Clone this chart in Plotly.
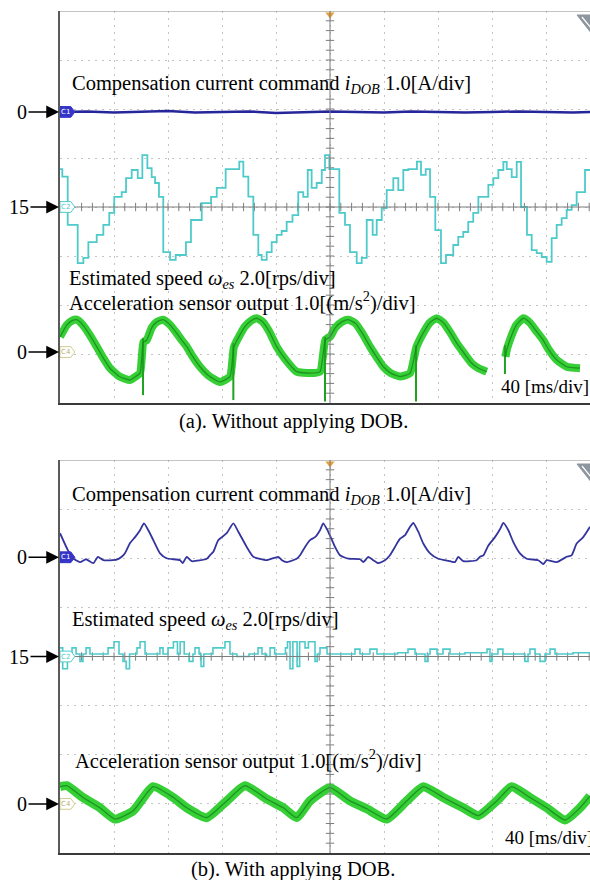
import plotly.graph_objects as go

# ------------------------------------------------------------------ data
# time in ms (40 ms/div); current in A, speed in rps, acceleration in m/s^2
# ---- (a) without DOB
a_cur_t = [0, 20, 40, 60, 80, 100, 120, 140, 160, 180, 200, 220, 240, 260, 280, 300, 320, 340, 360, 380, 392.6]
a_cur_v = [0.0, 0.01, -0.01, 0.0, 0.02, -0.01, 0.0, 0.01, -0.02, 0.0, 0.01, 0.0, -0.01, 0.01, 0.0, -0.01, 0.0, 0.01, 0.0, -0.01, 0.0]

a_spd_t = [0, 1.7, 5.7, 13.1, 17.3, 21, 27.2, 32.1, 36.5, 40.2, 45.7, 48.9, 53.1, 57.6, 61, 64.7, 67.9, 70.4,
           73.3, 76.5, 81.5, 85.7, 93.3, 97, 105, 111.9, 116.1, 122.7, 132.8, 135.8, 139.5, 143.2, 146.9, 149.4,
           153.1, 156.8, 160.5, 164.2, 167.9, 172.2, 176.5, 180.2, 183.5, 186.4, 190.1, 193.9, 196.3, 199.5,
           206.9, 211.1, 214.8, 219.8, 223.5, 227.2, 231.6, 234.6, 238.3, 242, 246.9, 250.6, 254.3, 258, 264.4,
           267.4, 270.9, 274.1, 278, 282.2, 285.9, 291.3, 295, 298.7, 302.4, 306.1, 309.9, 317.3, 321, 324.7,
           328.4, 330.9, 334.6, 338.3, 341.5, 345.9, 349.4, 353.1, 356.8, 360.5, 364.2, 367.9, 371.6, 375.3,
           379, 382.7, 388.9, 392.6]
a_spd_v = [16.55, 16.24, 14.27, 12.71, 12.92, 13.57, 13.86, 14.27, 14.76, 15.41, 15.61, 16.18, 16.51, 16.18,
           17.12, 16.59, 16.22, 15.98, 15.41, 13.16, 12.84, 13.04, 13.57, 14.47, 15.16, 15.41, 15.78, 16.55,
           16.85, 16.24, 15.42, 13.86, 13.04, 12.84, 13.16, 13.57, 13.86, 14.02, 14.39, 14.67, 15.61, 15.41,
           16.51, 15.78, 15.98, 16.51, 17.12, 16.55, 14.76, 14.27, 13.16, 12.71, 12.92, 14.47, 13.86, 14.47,
           14.96, 15.69, 16.18, 15.69, 16.51, 16.55, 16.85, 16.31, 16.55, 15.41, 14.06, 12.71, 13.04, 13.45,
           13.78, 13.98, 14.39, 14.76, 15.41, 15.9, 16.18, 16.51, 16.84, 16.55, 16.22, 16.84, 15.0, 13.86,
           13.24, 13.12, 12.96, 12.76, 13.73, 14.27, 14.55, 14.88, 15.08, 15.61, 16.51, 16.51]

a_acc_t = [0, 5, 9, 12.4, 17, 22, 27.2, 32, 37, 44, 51.9, 56, 59.3, 61.8, 64.2, 68, 72, 76.3, 81, 86, 90, 93.9,
           98, 103.7, 110, 118.5, 125.9, 128.8, 133.3, 137, 141, 145.7, 150, 155, 160.5, 167, 175.3, 185.2,
           192.6, 196.6, 200, 204, 209, 213.6, 219, 224, 229.6, 235, 239.5, 245, 251.9, 259.3, 264, 269.1,
           274, 279, 284, 289, 293.9, 300, 305, 310, 316.1, 317, 330, 331, 334, 338, 343.2, 348, 353, 358,
           362, 367.9, 375.3, 385.2]
a_acc_v = [0.31, 0.55, 0.64, 0.66, 0.55, 0.35, 0.11, -0.12, -0.33, -0.5, -0.57, -0.5, -0.43, 0.2, 0.24, 0.5,
           0.62, 0.66, 0.57, 0.4, 0.25, 0.11, -0.08, -0.3, -0.48, -0.61, -0.5, 0.1, 0.35, 0.52, 0.63, 0.69,
           0.62, 0.42, 0.11, -0.15, -0.4, -0.43, -0.4, 0.25, 0.31, 0.5, 0.62, 0.66, 0.58, 0.38, 0.11, -0.12,
           -0.3, -0.43, -0.5, -0.43, 0.1, 0.39, 0.6, 0.69, 0.6, 0.4, 0.18, -0.05, -0.23, -0.33, -0.4, None,
           -0.1, 0.05, 0.3, 0.55, 0.69, 0.6, 0.42, 0.24, 0.05, -0.16, -0.3, -0.33]
# impulsive spikes of the acceleration signal (time, lowest, highest)
a_spk_t = [61.5, 128.4, 196.3, 263.7, 329.6]
a_spk_lo = [-0.88, -0.98, -1.01, -1.01, -0.45]
a_spk_hi = [0.29, 0.18, 0.31, 0.14, 0.14]

# ---- (b) with DOB
b_cur_t = [0, 5.9, 9.6, 14.8, 19.3, 24.7, 28.1, 32.1, 42, 45.7, 48.1, 51.9, 55.6, 59.3, 62.2, 65.4, 69.1, 74.1,
           79, 88.9, 90.9, 93.9, 97.6, 108.7, 111.1, 113.6, 117.3, 123.5, 128.4, 132.1, 138.3, 143.2, 153.1,
           161.7, 164.4, 167.9, 175.3, 177.8, 181.5, 185.2, 188.9, 192.6, 195, 198.7, 203.7, 207.4, 213.6,
           222.2, 224.7, 228.4, 232.1, 235.8, 240.7, 244.4, 248.1, 251.9, 255.6, 259.3, 261.7, 265.4, 269.1,
           274.1, 280.2, 288.9, 292.6, 295, 298.7, 308.6, 311.1, 313.6, 317.3, 322.2, 325.9, 328.4, 332.1,
           335.8, 340.7, 345.7, 354.3, 358, 360.5, 367.9, 375.3, 379, 382.7, 387.6, 392.6]
b_cur_v = [0.49, 0.14, -0.02, -0.1, -0.04, -0.12, 0.01, -0.06, -0.05, 0.01, 0.08, 0.29, 0.41, 0.55, 0.69, 0.55,
           0.35, 0.08, -0.02, -0.06, -0.12, 0.01, -0.08, -0.03, 0.04, 0.11, 0.35, 0.49, 0.69, 0.52, 0.21, 0.01,
           -0.06, 0.01, -0.06, -0.1, -0.03, 0.04, 0.21, 0.35, 0.41, 0.55, 0.69, 0.52, 0.21, 0.04, -0.03, -0.04,
           -0.1, 0.01, -0.06, -0.12, -0.06, 0.04, 0.21, 0.38, 0.45, 0.62, 0.7, 0.52, 0.28, 0.08, -0.03, -0.08,
           -0.1, 0.01, -0.08, -0.06, 0.01, 0.04, 0.24, 0.41, 0.57, 0.7, 0.55, 0.31, 0.08, -0.03, -0.06, -0.14,
           -0.06, -0.1, 0.01, 0.04, 0.28, 0.41, 0.62]

b_spd_t = [0, 2, 5.5, 8.9, 11.9, 14.8, 17, 19.3, 22.2, 35.6, 40, 43.7, 46.7, 49, 51.5, 57, 59.3, 63, 74, 76.3,
           80, 84, 87, 89, 92, 95.6, 98.5, 100, 103, 104.5, 106.5, 113.3, 122.2, 125.9, 131, 140, 146.7, 149.6,
           153, 155.6, 159, 167, 168.5, 170.4, 172.5, 175.6, 177.5, 181.5, 184, 188.9, 190.5, 192.6, 197.8,
           218.5, 222.2, 229.6, 234.8, 250, 257.8, 263, 270.4, 272.6, 274.1, 279.3, 283.7, 288.9, 300, 316.3,
           318.5, 320, 324.4, 328.1, 344.4, 346.7, 348.1, 351.9, 355.6, 359.3, 363, 366.7, 380, 392.6]
b_spd_v = [15.35, 14.5, 15.1, 15.35, 15.1, 14.8, 15.1, 15.35, 15.1, 15.35, 15.6, 15.1, 14.8, 14.5, 15.1, 15.35,
           15.6, 15.1, 15.35, 15.1, 15.35, 15.6, 15.1, 15.6, 15.1, 14.8, 15.1, 15.35, 15.1, 14.6, 15.1, 15.35,
           15.6, 15.1, 15.0, 15.1, 15.35, 15.1, 15.0, 15.35, 15.1, 15.35, 15.6, 14.5, 15.6, 14.6, 15.6, 15.35,
           15.6, 14.8, 15.1, 15.35, 15.1, 15.3, 15.1, 15.3, 15.1, 15.15, 15.3, 15.1, 14.8, 15.1, 15.3, 15.1,
           15.3, 15.1, 15.15, 15.3, 14.8, 15.1, 15.3, 15.1, 14.8, 15.1, 15.3, 15.1, 14.8, 15.1, 15.3, 15.1,
           15.15, 15.15]

b_acc_t = [0, 5, 17, 29.6, 40.7, 54.3, 69.1, 83.9, 93.9, 108.7, 123.5, 137, 153.1, 165.4, 175.3, 185.2, 200,
           214.8, 227.2, 242, 256.8, 269.1, 283.9, 298.7, 309.9, 323.5, 334.6, 348.1, 360.5, 374.1, 385.2, 392.6]
b_acc_v = [0.35, 0.37, 0.13, -0.08, -0.31, -0.14, 0.35, 0.13, -0.08, -0.28, 0.06, 0.37, 0.1, -0.08, -0.28,
           0.06, 0.33, 0.06, -0.1, -0.31, 0.06, 0.35, 0.13, -0.08, -0.24, 0.06, 0.35, 0.13, -0.08, -0.33,
           -0.08, 0.16]

# channel settings: (reference value, units per div, screen offset in div)
A_CH = {"cur": (0, 1.0, 1.94), "spd": (15, 2.0, 0.0), "acc": (0, 1.0, -2.96)}
B_CH = {"cur": (0, 1.0, 2.02), "spd": (15, 2.0, 0.0), "acc": (0, 1.0, -3.0)}

# ------------------------------------------------------------------ layout helpers
W, H = 590, 880
SERIF = "Liberation Serif, Times New Roman, serif"
T_MAX = 530 / 1.35          # visible time span (ms)


def px(x):
    return x / W


def py(y):
    return 1 - y / H


X_DOM = [px(60), 1.0]
DOMS = {"a": [py(403), py(11)], "b": [py(853), py(460)]}

CYAN = "#4fcaca"
GREEN = "#36cf36"
DKGREEN = "#17861c"
GRIDC = "#c4c4c4"
CROSS = "#7d7d7d"

fig = go.Figure()
layout = dict(width=W, height=H, margin=dict(l=0, r=0, t=0, b=0), paper_bgcolor="white",
              plot_bgcolor="white", showlegend=False)

panels = {"a": ("x", "y", ["y3", "y4", "y5"], A_CH, 11), "b": ("x2", "y2", ["y6", "y7", "y8"], B_CH, 460)}

shapes, annos = [], []

for key, (xa, ya, chax, CH, top) in panels.items():
    xname = "xaxis" + xa[1:]
    yname = "yaxis" + ya[1:]
    layout[xname] = dict(domain=X_DOM, range=[0, T_MAX], anchor=ya, tick0=0, dtick=40, showgrid=True,
                         gridcolor=GRIDC, griddash="2px,5px", gridwidth=1, zeroline=False,
                         showticklabels=False, ticks="", showline=True, linecolor="#3a3a3a", linewidth=2)
    layout[yname] = dict(domain=DOMS[key], range=[-4, 4], anchor=xa, tick0=0, dtick=1, showgrid=True,
                         gridcolor=GRIDC, griddash="2px,5px", gridwidth=1, zeroline=False,
                         showticklabels=False, ticks="", showline=True, linecolor="#5a5a5a", linewidth=1.5)
    for ax_id, ch in zip(chax, ["cur", "spd", "acc"]):
        ref, per, off = CH[ch]
        layout["yaxis" + ax_id[1:]] = dict(overlaying=ya, anchor=xa, visible=False,
                                           range=[ref + per * (-4 - off), ref + per * (4 - off)])
    # top border
    shapes.append(dict(type="line", xref=xa, yref=ya, x0=0, x1=T_MAX, y0=4, y1=4,
                       line=dict(color="#8a8a8a", width=1)))
    # crosshair
    shapes.append(dict(type="line", xref=xa, yref=ya, x0=200, x1=200, y0=-4, y1=4,
                       line=dict(color=CROSS, width=1)))
    shapes.append(dict(type="line", xref=xa, yref=ya, x0=0, x1=T_MAX, y0=0, y1=0,
                       line=dict(color=CROSS, width=1)))
    # gray trigger-level flag at top right
    fx0, fx1, fy0, fy1 = px(577), px(592), py(top + 4), py(top + 23)
    shapes.append(dict(type="path", xref="paper", yref="paper",
                       path=f"M {fx0} {fy0} L {fx1} {fy0} L {fx1} {fy1} Z",
                       fillcolor="#8d959f", line=dict(color="#8d959f", width=1)))
    shapes.append(dict(type="line", xref="paper", yref="paper", x0=px(582), y0=py(top + 6),
                       x1=px(591), y1=py(top + 17), line=dict(color="white", width=1.2)))
    # crosshair minor ticks
    tx = [i * 8 for i in range(1, 50)]
    fig.add_trace(go.Scatter(x=tx, y=[0] * len(tx), xaxis=xa, yaxis=ya, mode="markers", hoverinfo="skip",
                             marker=dict(symbol="line-ns", size=6, line=dict(color=CROSS, width=1))))
    ty = [i * 0.2 - 4 for i in range(1, 40)]
    fig.add_trace(go.Scatter(x=[200] * len(ty), y=ty, xaxis=xa, yaxis=ya, mode="markers", hoverinfo="skip",
                             marker=dict(symbol="line-ew", size=6, line=dict(color=CROSS, width=1))))
    # trigger marker (orange) at top centre
    fig.add_trace(go.Scatter(x=[200], y=[3.93], xaxis=xa, yaxis=ya, mode="markers", hoverinfo="skip",
                             cliponaxis=False,
                             marker=dict(symbol="triangle-down", size=8, color="#e5a03c")))

# ------------------------------------------------------------------ traces
# panel (a)
fig.add_trace(go.Scatter(x=a_cur_t, y=a_cur_v, xaxis="x", yaxis="y3", mode="lines",
                         line=dict(color="#26269a", width=2.5), hoverinfo="skip"))
fig.add_trace(go.Scatter(x=a_spd_t, y=a_spd_v, xaxis="x", yaxis="y4", mode="lines", line_shape="hv",
                         line=dict(color=CYAN, width=1.8), hoverinfo="skip"))
sx, sy = [], []
for t, lo, hi in zip(a_spk_t, a_spk_lo, a_spk_hi):
    sx += [t, t, None]
    sy += [lo, hi, None]
fig.add_trace(go.Scatter(x=a_acc_t, y=a_acc_v, xaxis="x", yaxis="y5", mode="lines", connectgaps=False,
                         line=dict(color=GREEN, width=8, shape="spline", smoothing=0.5), hoverinfo="skip"))
fig.add_trace(go.Scatter(x=sx, y=sy, xaxis="x", yaxis="y5", mode="lines",
                         line=dict(color="#1fa21f", width=2), hoverinfo="skip"))
fig.add_trace(go.Scatter(x=a_acc_t, y=a_acc_v, xaxis="x", yaxis="y5", mode="lines", connectgaps=False,
                         line=dict(color=DKGREEN, width=1.3, shape="spline", smoothing=0.5), opacity=0.8,
                         hoverinfo="skip"))

# panel (b)
fig.add_trace(go.Scatter(x=b_cur_t, y=b_cur_v, xaxis="x2", yaxis="y6", mode="lines",
                         line=dict(color="#34349e", width=1.8, shape="spline", smoothing=0.5),
                         hoverinfo="skip"))
fig.add_trace(go.Scatter(x=b_spd_t, y=b_spd_v, xaxis="x2", yaxis="y7", mode="lines", line_shape="hv",
                         line=dict(color=CYAN, width=1.6), hoverinfo="skip"))
fig.add_trace(go.Scatter(x=b_acc_t, y=b_acc_v, xaxis="x2", yaxis="y8", mode="lines",
                         line=dict(color=GREEN, width=9, shape="spline", smoothing=0.5), hoverinfo="skip"))
fig.add_trace(go.Scatter(x=b_acc_t, y=b_acc_v, xaxis="x2", yaxis="y8", mode="lines",
                         line=dict(color=DKGREEN, width=1.3, shape="spline", smoothing=0.5), opacity=0.8,
                         hoverinfo="skip"))

# ------------------------------------------------------------------ channel tags and level arrows
TAGS = [("cur", "C1", "#3535c8", "#3535c8", "white"),
        ("spd", "C2", "white", CYAN, CYAN),
        ("acc", "C4", "white", "#d2cc8c", "#b8b070")]
LEFT_LABEL = {"cur": "0", "spd": "15", "acc": "0"}

for key, (xa, ya, chax, CH, top) in panels.items():
    for ch, name, fill, edge, tcol in TAGS:
        lvl = CH[ch][2]
        h = 0.11
        path = (f"M 0 {lvl - h} L 8 {lvl - h} L 11 {lvl} L 8 {lvl + h} L 0 {lvl + h} Z")
        shapes.append(dict(type="path", xref=xa, yref=ya, path=path, fillcolor=fill,
                           line=dict(color=edge, width=1)))
        annos.append(dict(xref=xa, yref=ya, x=4.2, y=lvl, text=name, showarrow=False,
                          font=dict(family="DejaVu Sans", size=7, color=tcol), xanchor="center",
                          yanchor="middle"))
        lab = LEFT_LABEL[ch]
        annos.append(dict(xref="paper", yref=ya, x=px(59), y=lvl, text=lab, showarrow=True,
                          ax=(-37 if lab == "0" else -40), ay=0, axref="pixel", ayref="pixel",
                          arrowhead=2, arrowsize=1.7, arrowwidth=1.5, arrowcolor="black", standoff=0,
                          font=dict(family=SERIF, size=20, color="black")))

# ------------------------------------------------------------------ text labels
TXT_CUR = "Compensation current command <i>i</i><sub><i>DOB</i></sub> 1.0[A/div]"
TXT_SPD = "Estimated speed <i>ω</i><sub><i>es</i></sub> 2.0[rps/div]"
TXT_ACC = "Acceleration sensor output 1.0[(m/s<sup>2</sup>)/div]"
TXT_TIME = "40 [ms/div]"
FS = 20.5
labels = [(TXT_CUR, 70, 85), (TXT_SPD, 67, 279), (TXT_ACC, 67, 301),
          (TXT_CUR, 70, 496), (TXT_SPD, 70, 620), (TXT_ACC, 73, 759)]
for txt, x, y in labels:
    annos.append(dict(xref="paper", yref="paper", x=px(x), y=py(y), text=txt, showarrow=False,
                      xanchor="left", yanchor="middle", font=dict(family=SERIF, size=FS, color="black")))
for x, y in [(499, 386), (503, 837)]:
    annos.append(dict(xref="paper", yref="paper", x=px(x), y=py(y), text=TXT_TIME, showarrow=False,
                      xanchor="left", yanchor="middle", bgcolor="white", borderpad=1,
                      font=dict(family=SERIF, size=19, color="black")))
for txt, y in [("(a). Without applying DOB.", 421), ("(b). With applying DOB.", 869)]:
    annos.append(dict(xref="paper", yref="paper", x=px(293), y=py(y), text=txt, showarrow=False,
                      xanchor="center", yanchor="middle", font=dict(family=SERIF, size=FS, color="black")))

layout["shapes"] = shapes
layout["annotations"] = annos
fig.update_layout(**layout)
# remove the default page margin so the 590x880 figure fills the window exactly
fig.write_html("out.html", config={"displayModeBar": False},
               post_script="document.body.style.margin='0px';"
                           "document.body.style.overflow='hidden';")
